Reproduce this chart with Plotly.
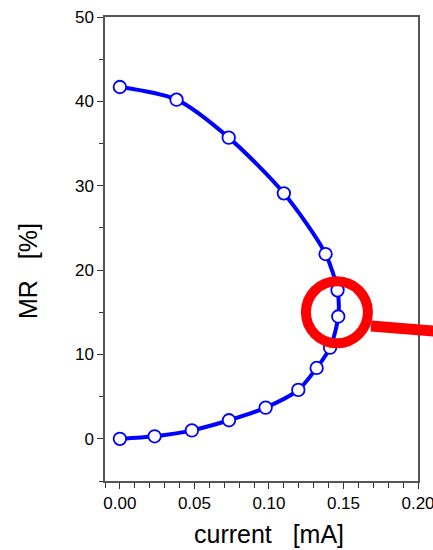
import plotly.graph_objects as go

# Data (current in mA, MR in %)
current_ma = [0.000, 0.038, 0.073, 0.110, 0.138, 0.146, 0.1465,
              0.141, 0.132, 0.1197, 0.0978, 0.0732, 0.0483, 0.0233, 0.000]
mr_percent = [41.7, 40.2, 35.7, 29.1, 21.9, 17.6, 14.5,
              10.8, 8.4, 5.8, 3.7, 2.2, 1.0, 0.3, 0.0]

x_ticks = [0.00, 0.05, 0.10, 0.15, 0.20]
x_tick_labels = ["0.00", "0.05", "0.10", "0.15", "0.20"]
y_ticks = [0, 10, 20, 30, 40, 50]
y_tick_labels = ["0", "10", "20", "30", "40", "50"]

x_title = "current\u00a0\u00a0 [mA]"
y_title = "MR\u00a0\u00a0 [%]"

# Highlight circle (data coordinates)
circle_center = (0.1456, 15.0)

FONT = "Arial, Liberation Sans, Helvetica, sans-serif"
BLUE = "#0000FF"
RED = "#FF0000"

# plot area in pixels: left 105, right 418, top 17, bottom 481
L, R, T, B = 105, 418, 17, 481
def px(xp):
    return (xp - L) / (R - L)
def py(yp):
    return (B - yp) / (B - T)

fig = go.Figure()
fig.add_trace(go.Scatter(
    x=current_ma, y=mr_percent, mode="lines+markers",
    line=dict(color=BLUE, width=4, shape="spline", smoothing=0.8),
    marker=dict(symbol="circle", size=12.5, color="white",
                line=dict(color=BLUE, width=1.8)),
    showlegend=False, cliponaxis=False,
))

rx = 31 / 1490.0
ry = 31 / 8.44
fig.add_shape(type="circle", xref="x", yref="y",
              x0=circle_center[0] - rx, x1=circle_center[0] + rx,
              y0=circle_center[1] - ry, y1=circle_center[1] + ry,
              line=dict(color=RED, width=10), layer="above")
fig.add_shape(type="line", xref="paper", yref="paper",
              x0=px(371), y0=py(326), x1=px(440), y1=py(331.5),
              line=dict(color=RED, width=11), layer="above")

axis_common = dict(
    showgrid=False, zeroline=False, showline=True, mirror=True,
    linecolor="#555555", linewidth=1.5, automargin=False,
    ticks="outside", tickcolor="#333333", ticklen=6, tickwidth=1,
    tickfont=dict(family=FONT, size=17, color="black"),
    ticklabeloverflow="allow",
)

fig.update_xaxes(
    range=[-0.01, 0.20], tickmode="array", tickvals=x_ticks, ticktext=x_tick_labels,
    minor=dict(ticks="outside", dtick=0.01, ticklen=5, tickcolor="#333333"),
    **axis_common,
)
fig.update_yaxes(
    range=[-5, 50], tickmode="array", tickvals=y_ticks, ticktext=y_tick_labels,
    minor=dict(ticks="outside", dtick=5, ticklen=4, tickcolor="#333333"),
    **axis_common,
)

fig.add_annotation(text=x_title, xref="paper", yref="paper", x=px(269), y=py(534),
                   showarrow=False, xanchor="center", yanchor="middle",
                   font=dict(family=FONT, size=25, color="black"))
fig.add_annotation(text=y_title, xref="paper", yref="paper", x=px(28), y=py(271),
                   showarrow=False, xanchor="center", yanchor="middle", textangle=-90,
                   font=dict(family=FONT, size=25, color="black"))

fig.update_layout(
    width=433, height=550,
    margin=dict(l=L, r=433 - R, t=T, b=550 - B),
    paper_bgcolor="white", plot_bgcolor="white",
    font=dict(family=FONT),
)

fig.write_html("out.html", config={"displayModeBar": False},
               post_script="document.body.style.margin='0';document.body.style.overflow='hidden';")
